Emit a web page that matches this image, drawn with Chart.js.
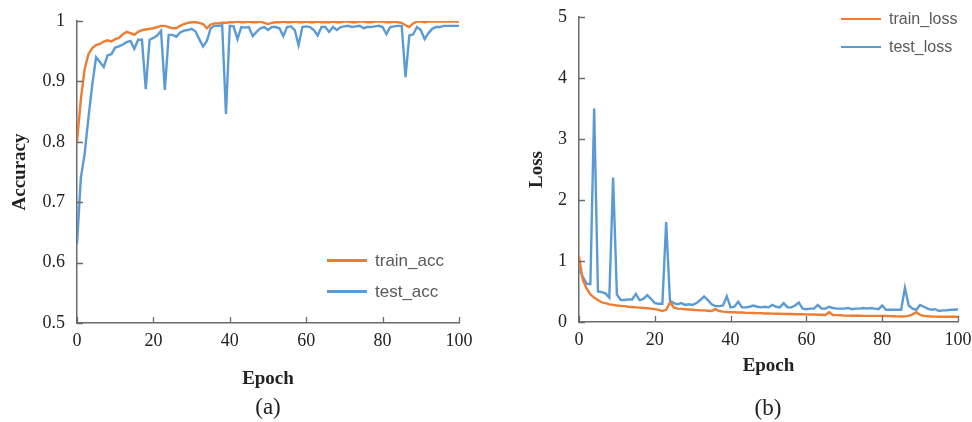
<!DOCTYPE html>
<html>
<head>
<meta charset="utf-8">
<script src="https://cdn.jsdelivr.net/npm/chart.js@4.4.0/dist/chart.umd.min.js"></script>
<style>
    html, body { margin: 0; padding: 0; background: #fff; }
    body { width: 972px; height: 422px; position: relative; overflow: hidden; }
    .panel { position: absolute; top: 0; height: 422px; }
    .caption { position: absolute; font-family: 'Liberation Serif', serif; font-size: 23px; color: #222; transform: translate(-50%, -50%); }
    .legend { position: absolute; font-family: 'Liberation Sans', sans-serif; color: #595959; }
    .legend-row { display: flex; align-items: center; white-space: nowrap; }
    .legend-line { width: 40px; height: 2.5px; margin-right: 8px; }
</style>
</head>
<body>
<div class="panel" style="left:0;width:480px;"><canvas id="accChart"></canvas></div>
<div class="panel" style="left:500px;width:472px;"><canvas id="lossChart"></canvas></div>
<div class="caption" style="left:268px;top:407px;">(a)</div>
<div class="caption" style="left:768px;top:408px;">(b)</div>
<div class="legend" id="accLegend" style="left:327px;top:245px;font-size:17px;"></div>
<div class="legend" id="lossLegend" style="left:841px;top:5px;font-size:16px;"></div>

<script>
// --- du lieu doc tu hinh ---
const epochs = Array.from({ length: 101 }, (_, i) => i);

const trainAcc = [
    0.80, 0.87, 0.92, 0.945, 0.955, 0.96, 0.962, 0.966, 0.968, 0.966,
    0.97, 0.972, 0.978, 0.982, 0.98, 0.977, 0.982, 0.985, 0.986, 0.987,
    0.988, 0.99, 0.992, 0.992, 0.99, 0.988, 0.988, 0.992, 0.995, 0.997,
    0.998, 0.998, 0.997, 0.995, 0.988, 0.994, 0.996, 0.996, 0.997, 0.997,
    0.998, 0.998, 0.999, 0.998, 0.998, 0.999, 0.998, 0.998, 0.999, 0.997,
    0.995, 0.997, 0.998, 0.998, 0.999, 0.998, 0.998, 0.999, 0.998, 0.998,
    0.999, 0.998, 0.998, 0.999, 0.998, 0.998, 0.998, 0.999, 0.998, 0.998,
    0.999, 0.999, 0.998, 0.998, 0.999, 0.999, 0.998, 0.998, 0.999, 0.999,
    0.999, 0.998, 0.998, 0.999, 0.998, 0.997, 0.993, 0.99, 0.996, 0.999,
    0.999, 0.998, 0.999, 0.999, 0.999, 0.999, 0.999, 0.999, 0.999, 0.999,
    0.999
];

const testAcc = [
    0.63, 0.74, 0.78, 0.84, 0.895, 0.94, 0.932, 0.924, 0.943, 0.945,
    0.956, 0.958, 0.961, 0.965, 0.967, 0.954, 0.969, 0.969, 0.887, 0.969,
    0.972, 0.976, 0.984, 0.886, 0.977, 0.977, 0.974, 0.981, 0.984, 0.985,
    0.987, 0.983, 0.970, 0.958, 0.967, 0.988, 0.992, 0.992, 0.993, 0.846,
    0.992, 0.991, 0.970, 0.99, 0.989, 0.99, 0.975, 0.982, 0.988, 0.99,
    0.985, 0.99, 0.99, 0.988, 0.975, 0.99, 0.991, 0.985, 0.96, 0.99,
    0.991, 0.99, 0.985, 0.976, 0.99, 0.99, 0.982, 0.99, 0.985, 0.99,
    0.991, 0.992, 0.99, 0.991, 0.992, 0.988, 0.99, 0.99, 0.991, 0.992,
    0.99, 0.978, 0.99, 0.991, 0.992, 0.992, 0.907, 0.976, 0.978, 0.99,
    0.985, 0.97, 0.98, 0.987, 0.99, 0.99, 0.992, 0.992, 0.992, 0.992,
    0.992
];

const trainLoss = [
    1.07, 0.69, 0.55, 0.45, 0.40, 0.36, 0.32, 0.31, 0.29, 0.28,
    0.27, 0.265, 0.26, 0.25, 0.245, 0.24, 0.235, 0.23, 0.225, 0.22,
    0.21, 0.20, 0.18, 0.20, 0.32, 0.24, 0.22, 0.215, 0.21, 0.205,
    0.20, 0.195, 0.19, 0.19, 0.185, 0.18, 0.21, 0.18, 0.17, 0.165,
    0.16, 0.16, 0.155, 0.155, 0.15, 0.15, 0.148, 0.145, 0.145, 0.14,
    0.14, 0.138, 0.136, 0.135, 0.133, 0.132, 0.13, 0.128, 0.127, 0.126,
    0.125, 0.123, 0.122, 0.12, 0.118, 0.115, 0.16, 0.115, 0.112, 0.11,
    0.105, 0.104, 0.103, 0.102, 0.102, 0.101, 0.1, 0.1, 0.1, 0.1,
    0.1, 0.098, 0.096, 0.095, 0.093, 0.09, 0.092, 0.1, 0.125, 0.16,
    0.115, 0.1, 0.095, 0.09, 0.088, 0.087, 0.087, 0.087, 0.087, 0.086,
    0.086
];

const testLoss = [
    0.88, 0.74, 0.63, 0.62, 3.50, 0.50, 0.49, 0.47, 0.40, 2.37,
    0.45, 0.36, 0.36, 0.37, 0.37, 0.46, 0.36, 0.38, 0.44, 0.38,
    0.31, 0.30, 0.30, 1.64, 0.35, 0.31, 0.29, 0.31, 0.28, 0.29,
    0.28, 0.31, 0.36, 0.42, 0.36, 0.29, 0.26, 0.26, 0.27, 0.42,
    0.24, 0.25, 0.33, 0.24, 0.24, 0.25, 0.27, 0.25, 0.24, 0.25,
    0.24, 0.28, 0.25, 0.24, 0.31, 0.24, 0.24, 0.27, 0.32, 0.22,
    0.21, 0.22, 0.22, 0.28, 0.22, 0.22, 0.25, 0.23, 0.22, 0.22,
    0.22, 0.23, 0.21, 0.22, 0.22, 0.23, 0.22, 0.23, 0.22, 0.21,
    0.27, 0.20, 0.20, 0.20, 0.20, 0.20, 0.56, 0.27, 0.22, 0.20,
    0.28, 0.25, 0.22, 0.20, 0.21, 0.18, 0.19, 0.19, 0.20, 0.20,
    0.21
];

const ORANGE = '#ED7D31';
const BLUE = '#5B9BD5';
const AXIS_COLOR = '#6b6b6b';
const serif = "'Liberation Serif', 'DejaVu Serif', serif";

// ve vach chia huong vao trong (nhu Excel)
const inwardTicks = {
    id: 'inwardTicks',
    afterDraw(chart) {
        const ctx = chart.ctx;
        const xs = chart.scales.x, ys = chart.scales.y;
        const area = chart.chartArea;
        ctx.save();
        ctx.strokeStyle = AXIS_COLOR;
        ctx.lineWidth = 1.3;
        ctx.beginPath();
        xs.ticks.forEach(t => {
            const px = Math.round(xs.getPixelForValue(t.value)) + 0.5;
            ctx.moveTo(px, area.bottom);
            ctx.lineTo(px, area.bottom - 6);
        });
        ys.ticks.forEach(t => {
            const py = Math.round(ys.getPixelForValue(t.value)) + 0.5;
            ctx.moveTo(area.left, py);
            ctx.lineTo(area.left + 6, py);
        });
        ctx.stroke();
        ctx.restore();
    }
};

function makeChart(id, opts) {
    const el = document.getElementById(id);
    return new Chart(el, {
        type: 'line',
        data: {
            labels: epochs,
            datasets: opts.series.map(s => ({
                label: s.label,
                data: s.data,
                borderColor: s.color,
                backgroundColor: s.color,
                borderWidth: 2.4,
                pointRadius: 0,
                tension: 0,
                fill: false
            }))
        },
        options: {
            responsive: true,
            maintainAspectRatio: false,
            animation: false,
            layout: { padding: opts.padding },
            plugins: { legend: { display: false }, tooltip: { enabled: false } },
            scales: {
                x: {
                    type: 'linear',
                    min: 0, max: 100,
                    // padding = 0 de nhan "100" khong day vung ve vao trong; khoang cach do tickLength lo
                    ticks: { stepSize: 20, color: '#222', padding: 0, font: { family: serif, size: 18 } },
                    grid: { display: false, drawTicks: true, tickLength: 7, tickColor: 'rgba(0,0,0,0)' },
                    border: { display: true, color: AXIS_COLOR, width: 1.5 },
                    title: {
                        display: true, text: 'Epoch', color: '#222',
                        font: { family: serif, size: 19, weight: 'bold' },
                        padding: { top: 0, bottom: 0 }
                    },
                    afterFit: s => { s.height = opts.xHeight; }
                },
                y: {
                    min: opts.yMin, max: opts.yMax,
                    ticks: {
                        stepSize: opts.yStep, color: '#222', padding: 0,
                        font: { family: serif, size: 18 },
                        callback: v => String(Number(v.toFixed(2)))
                    },
                    grid: { display: false, drawTicks: true, tickLength: 12, tickColor: 'rgba(0,0,0,0)' },
                    border: { display: true, color: AXIS_COLOR, width: 1.5 },
                    title: {
                        display: true, text: opts.yTitle, color: '#222',
                        font: { family: serif, size: 19, weight: 'bold' },
                        padding: { top: opts.yTitlePad, bottom: 0 }
                    },
                    afterFit: s => { s.width = opts.yWidth; }
                }
            }
        },
        plugins: [inwardTicks]
    });
}

// HTML legend lay tu datasets
function buildLegend(chart, boxId, rowGap) {
    const box = document.getElementById(boxId);
    chart.data.datasets.forEach(ds => {
        const row = document.createElement('div');
        row.className = 'legend-row';
        row.style.height = rowGap + 'px';
        const line = document.createElement('span');
        line.className = 'legend-line';
        line.style.background = ds.borderColor;
        const txt = document.createElement('span');
        txt.textContent = ds.label;
        row.appendChild(line);
        row.appendChild(txt);
        box.appendChild(row);
    });
}

const accChart = makeChart('accChart', {
    series: [
        { label: 'train_acc', data: trainAcc, color: ORANGE },
        { label: 'test_acc', data: testAcc, color: BLUE }
    ],
    yMin: 0.5, yMax: 1, yStep: 0.1,
    yTitle: 'Accuracy', yTitlePad: 9,
    yWidth: 77, xHeight: 67,
    padding: { top: 21, right: 21, left: 0, bottom: 32 }
});

const lossChart = makeChart('lossChart', {
    series: [
        { label: 'train_loss', data: trainLoss, color: ORANGE },
        { label: 'test_loss', data: testLoss, color: BLUE }
    ],
    yMin: 0, yMax: 5, yStep: 1,
    yTitle: 'Loss', yTitlePad: 26,
    yWidth: 79, xHeight: 55,
    padding: { top: 17, right: 14, left: 0, bottom: 45 }
});

buildLegend(accChart, 'accLegend', 31);
buildLegend(lossChart, 'lossLegend', 28);
</script>
</body>
</html>
